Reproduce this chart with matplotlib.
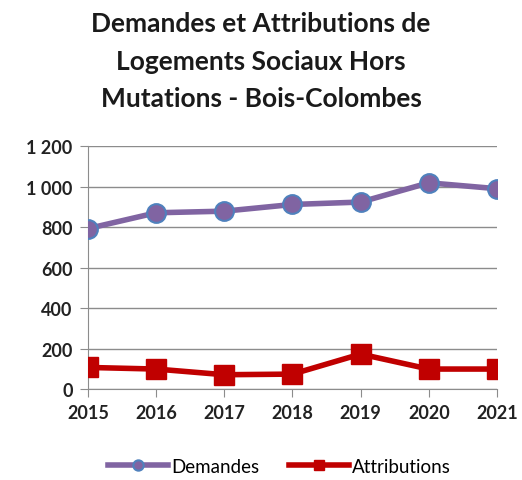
import numpy as np
import matplotlib
matplotlib.use("Agg")
import matplotlib.pyplot as plt

years = [2015, 2016, 2017, 2018, 2019, 2020, 2021]
demandes = [793, 871, 879, 912, 924, 1019, 990]
attributions = [107, 99, 71, 74, 173, 99, 99]
yticks = [0, 200, 400, 600, 800, 1000, 1200]
ylabels = ["0", "200", "400", "600", "800", "1 000", "1 200"]

plt.rcParams['font.family'] = ['Lato', 'DejaVu Sans']

fig = plt.figure(figsize=(5.22, 4.81), dpi=100)
ax = fig.add_axes([0.1686, 0.189, 0.7834, 0.505])

ax.plot(years, demandes, color='#8064A2', lw=4, marker='o', ms=13.5,
        mfc='#8064A2', mec='#4F81BD', mew=1.5, label='Demandes', zorder=3)
ax.plot(years, attributions, color='#C00000', lw=4, marker='s', ms=14,
        mfc='#C00000', mec='#C00000', label='Attributions', zorder=3)

ax.set_xlim(2015, 2021)
ax.set_ylim(0, 1200)
ax.set_xticks(years)
ax.set_xticklabels([str(y) for y in years], fontsize=13, fontweight='bold', color='#222222')
ax.set_yticks(yticks)
ax.set_yticklabels(ylabels, fontsize=13, fontweight='bold', color='#222222')
ax.yaxis.grid(True, color='#8c8c8c', lw=1)
ax.set_axisbelow(True)
for s in ['top', 'right']:
    ax.spines[s].set_visible(False)
for s in ['left', 'bottom']:
    ax.spines[s].set_color('#8c8c8c')
ax.tick_params(axis='both', color='#8c8c8c', length=6, direction='out', pad=5)
for lbl in ax.get_xticklabels() + ax.get_yticklabels():
    lbl.set_clip_on(False)

fig.text(0.5, 0.975, "Demandes et Attributions de\nLogements Sociaux Hors\nMutations - Bois-Colombes",
         ha='center', va='top', fontsize=19, fontweight='bold', linespacing=1.68,
         color='#1a1a1a')

fig.legend(loc='center', bbox_to_anchor=(0.535, 0.028), ncol=2, frameon=False,
           fontsize=13.5, handlelength=3.2, handletextpad=0.15, columnspacing=1.6,
           markerscale=0.55)

fig.savefig("out.png", dpi=100)
